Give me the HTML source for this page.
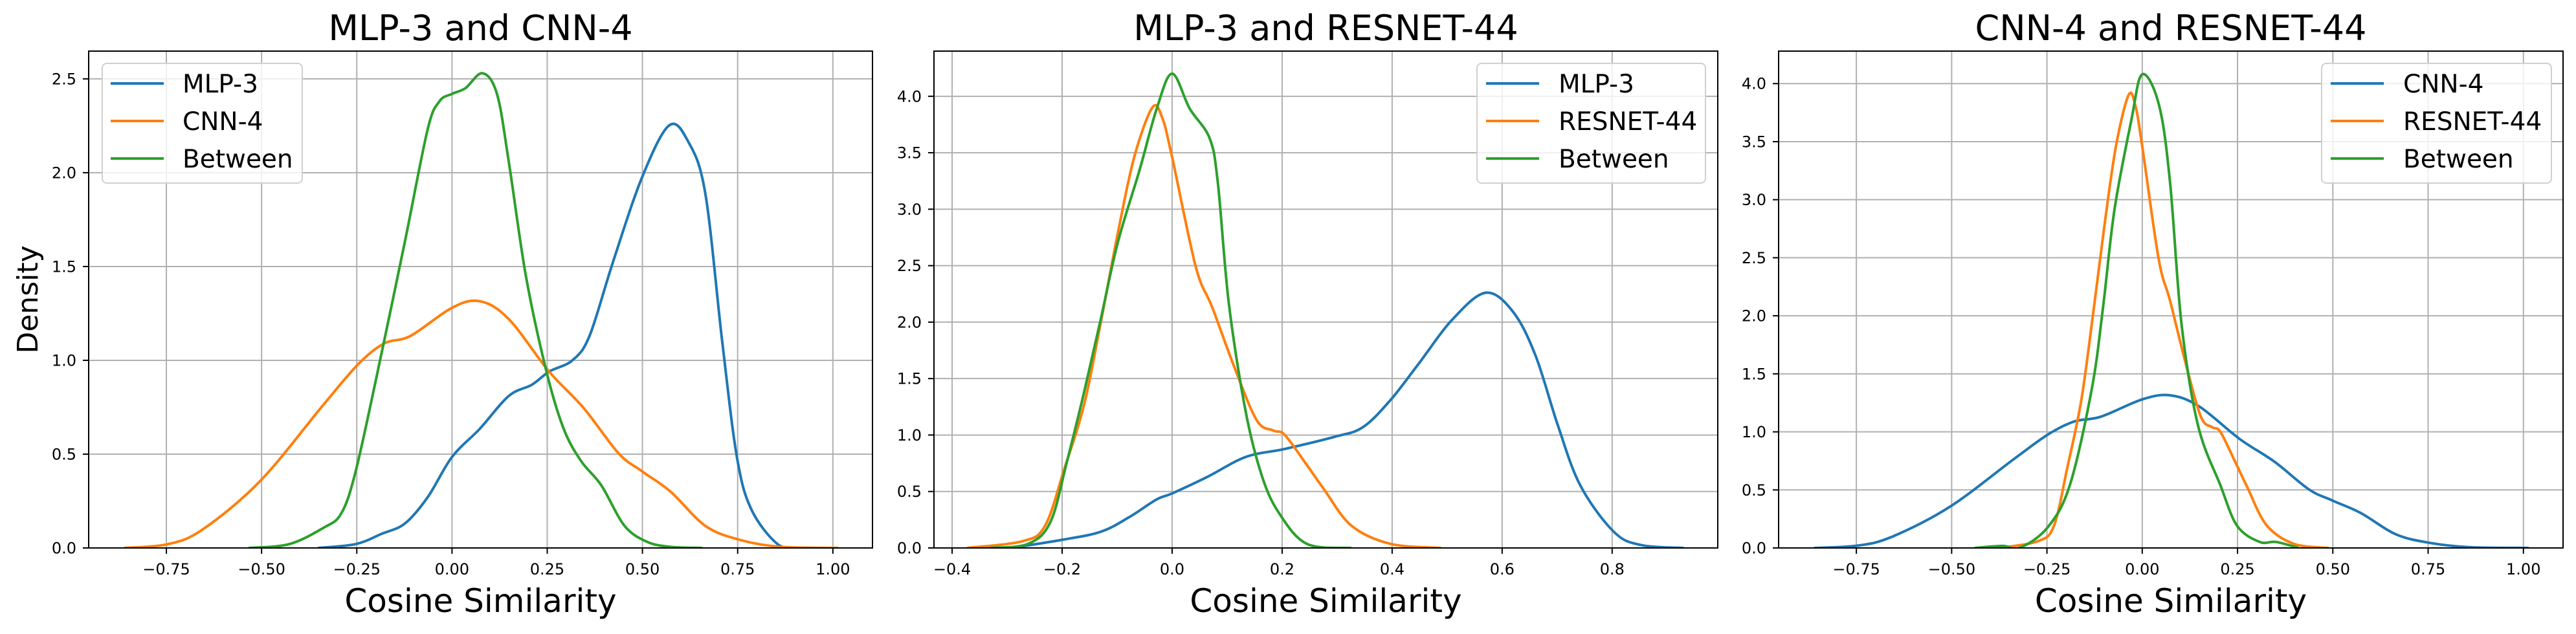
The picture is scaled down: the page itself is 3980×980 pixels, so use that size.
<!DOCTYPE html>
<html><head><meta charset="utf-8">
<style>
html,body{margin:0;padding:0;background:#fff;}
svg{display:block;font-family:"DejaVu Sans","Liberation Sans",sans-serif;}
</style></head>
<body>
<svg id="fig" width="3980" height="980" viewBox="0 0 3980 980" xmlns="http://www.w3.org/2000/svg"></svg>
<script>
// ---- data (x = cosine similarity, y = density) ----
const mlp3_A_x = [-0.352,-0.254,-0.185,-0.124,-0.064,0,0.073,0.149,0.21,0.255,0.316,0.361,0.422,0.498,0.569,0.619,0.665,0.710,0.748,0.786,0.855,0.91];
const mlp3_A_y = [0,0.02,0.075,0.13,0.27,0.485,0.635,0.81,0.87,0.94,1.00,1.13,1.52,1.97,2.25,2.17,1.89,1.09,0.485,0.205,0.02,0];
const cnn4_x = [-0.861,-0.747,-0.656,-0.504,-0.337,-0.246,-0.178,-0.109,0,0.073,0.149,0.255,0.346,0.437,0.498,0.574,0.665,0.756,0.862,1.014];
const cnn4_y = [0,0.02,0.097,0.356,0.765,0.98,1.09,1.13,1.28,1.315,1.22,0.94,0.745,0.505,0.41,0.30,0.118,0.043,0.006,0];
const betweenA_x = [-0.534,-0.428,-0.337,-0.291,-0.254,-0.2,-0.124,-0.064,-0.033,0,0.035,0.080,0.118,0.149,0.194,0.248,0.293,0.339,0.392,0.453,0.513,0.574,0.657];
const betweenA_y = [0,0.02,0.108,0.183,0.40,0.894,1.63,2.23,2.38,2.42,2.45,2.53,2.42,2.06,1.45,0.94,0.636,0.463,0.334,0.118,0.032,0.006,0];
const mlp3_B_x = [-0.292,-0.2,-0.13,-0.079,-0.028,0,0.063,0.134,0.205,0.296,0.347,0.397,0.448,0.509,0.570,0.620,0.661,0.701,0.742,0.803,0.853,0.93];
const mlp3_B_y = [0,0.072,0.143,0.27,0.43,0.483,0.627,0.806,0.877,0.985,1.07,1.31,1.63,2.02,2.26,2.09,1.70,1.09,0.555,0.143,0.025,0];
const resnet_x = [-0.373,-0.272,-0.231,-0.196,-0.160,-0.13,-0.099,-0.069,-0.036,-0.018,0,0.043,0.073,0.114,0.154,0.184,0.205,0.245,0.276,0.326,0.397,0.489];
const resnet_y = [0,0.06,0.197,0.70,1.27,1.99,2.78,3.46,3.90,3.81,3.46,2.49,2.13,1.59,1.13,1.04,1.00,0.734,0.52,0.197,0.036,0];
const betweenB_x = [-0.332,-0.262,-0.221,-0.191,-0.160,-0.13,-0.099,-0.059,-0.028,0,0.032,0.068,0.083,0.103,0.134,0.164,0.195,0.245,0.326];
const betweenB_y = [0,0.036,0.233,0.77,1.38,2.02,2.70,3.35,3.89,4.20,3.89,3.63,3.24,2.17,1.20,0.627,0.304,0.036,0];
const betweenC_x = [-0.44,-0.366,-0.322,-0.249,-0.19,-0.132,-0.103,-0.073,-0.029,0,0.044,0.073,0.103,0.146,0.205,0.249,0.308,0.351,0.41];
const betweenC_y = [0,0.017,0,0.174,0.54,1.376,2.07,2.91,3.68,4.08,3.815,3.15,1.93,1.06,0.54,0.19,0.052,0.052,0];

const ticksX_A = [-0.75,-0.5,-0.25,0,0.25,0.5,0.75,1.0];
const tickLabelsX_A = ["−0.75","−0.50","−0.25","0.00","0.25","0.50","0.75","1.00"];
const ticksX_B = [-0.4,-0.2,0,0.2,0.4,0.6,0.8];
const tickLabelsX_B = ["−0.4","−0.2","0.0","0.2","0.4","0.6","0.8"];
const ticksY_A = [0,0.5,1,1.5,2,2.5];
const tickLabelsY_A = ["0.0","0.5","1.0","1.5","2.0","2.5"];
const ticksY_B = [0,0.5,1,1.5,2,2.5,3,3.5,4];
const tickLabelsY_B = ["0.0","0.5","1.0","1.5","2.0","2.5","3.0","3.5","4.0"];

const C = ["#1f77b4","#ff7f0e","#2ca02c"];
const NS = "http://www.w3.org/2000/svg";
const fig = document.getElementById('fig');
function mk(tag, attrs, parent){
  const e = document.createElementNS(NS, tag);
  for (const k in attrs) e.setAttribute(k, attrs[k]);
  (parent||fig).appendChild(e); return e;
}
function smooth(pts){
  let d = "M"+pts[0][0].toFixed(1)+","+pts[0][1].toFixed(1);
  for (let i=0;i<pts.length-1;i++){
    const p0=pts[Math.max(0,i-1)], p1=pts[i], p2=pts[i+1], p3=pts[Math.min(pts.length-1,i+2)];
    const c1=[p1[0]+(p2[0]-p0[0])/6, p1[1]+(p2[1]-p0[1])/6];
    const c2=[p2[0]-(p3[0]-p1[0])/6, p2[1]-(p3[1]-p1[1])/6];
    d+=" C"+c1[0].toFixed(1)+","+c1[1].toFixed(1)+" "+c2[0].toFixed(1)+","+c2[1].toFixed(1)+" "+p2[0].toFixed(1)+","+p2[1].toFixed(1);
  }
  return d;
}
const panels = [
  {key:"mlp3-cnn4", title:"MLP-3 and CNN-4", L:137, R:1348, T:79, B:847, xmin:-0.954, xmax:1.104, ymax:2.648,
   tx:ticksX_A, txl:tickLabelsX_A, ty:ticksY_A, tyl:tickLabelsY_A, ylabel:true,
   series:[["MLP-3",mlp3_A_x,mlp3_A_y],["CNN-4",cnn4_x,cnn4_y],["Between",betweenA_x,betweenA_y]],
   leg:{x:158,y:98,w:309,h:185,line:171,text:282}},
  {key:"mlp3-resnet44", title:"MLP-3 and RESNET-44", L:1443, R:2654, T:79, B:847, xmin:-0.433, xmax:0.992, ymax:4.4,
   tx:ticksX_B, txl:tickLabelsX_B, ty:ticksY_B, tyl:tickLabelsY_B, ylabel:false,
   series:[["MLP-3",mlp3_B_x,mlp3_B_y],["RESNET-44",resnet_x,resnet_y],["Between",betweenB_x,betweenB_y]],
   leg:{x:2282,y:98,w:353,h:185,line:2296,text:2408}},
  {key:"cnn4-resnet44", title:"CNN-4 and RESNET-44", L:2748, R:3960, T:79, B:847, xmin:-0.954, xmax:1.104, ymax:4.28,
   tx:ticksX_A, txl:tickLabelsX_A, ty:ticksY_B, tyl:tickLabelsY_B, ylabel:false,
   series:[["CNN-4",cnn4_x,cnn4_y],["RESNET-44",resnet_x,resnet_y],["Between",betweenC_x,betweenC_y]],
   leg:{x:3587,y:98,w:355,h:185,line:3601,text:3713}}
];
panels.forEach(p=>{
  const g = mk('g',{});
  
  
  const sx = v => p.L + (v-p.xmin)/(p.xmax-p.xmin)*(p.R-p.L);
  const sy = v => p.B - v/p.ymax*(p.B-p.T);
  p.tx.forEach((t,i)=>{
    const x=sx(t);
    const gl = mk('line',{x1:x,x2:x,y1:p.T,y2:p.B,stroke:"#b0b0b0","stroke-width":2},g);
    
    
    mk('line',{x1:x,x2:x,y1:p.B,y2:p.B+9,stroke:"#000","stroke-width":2},g);
    const tl = mk('text',{x:x,y:888,"font-size":24,"text-anchor":"middle",fill:"#000"},g);
    tl.textContent = p.txl[i];
    
    
  });
  p.ty.forEach((t,i)=>{
    const y=sy(t);
    const gl = mk('line',{x1:p.L,x2:p.R,y1:y,y2:y,stroke:"#b0b0b0","stroke-width":2},g);
    
    
    mk('line',{x1:p.L-9,x2:p.L,y1:y,y2:y,stroke:"#000","stroke-width":2},g);
    const tl = mk('text',{x:p.L-19,y:y+8.5,"font-size":24,"text-anchor":"end",fill:"#000"},g);
    tl.textContent = p.tyl[i];
    
    
  });
  const clip = mk('clipPath',{id:'clip-'+p.key},g);
  mk('rect',{x:p.L,y:p.T,width:p.R-p.L,height:p.B-p.T},clip);
  p.series.forEach((s,si)=>{
    const pts = s[1].map((xv,k)=>[sx(xv), sy(s[2][k])]);
    const path = mk('path',{d:smooth(pts),fill:"none",stroke:C[si],"stroke-width":4,"stroke-linejoin":"round","clip-path":"url(#clip-"+p.key+")"},g);
    
    
  });
  const fr = mk('rect',{x:p.L,y:p.T,width:p.R-p.L,height:p.B-p.T,fill:"none",stroke:"#000","stroke-width":2},g);
  
  
  const ti = mk('text',{x:(p.L+p.R)/2,y:62,"font-size":54,"text-anchor":"middle",fill:"#000"},g);
  ti.textContent = p.title;
  
  
  const xl = mk('text',{x:(p.L+p.R)/2,y:946,"font-size":50,"text-anchor":"middle",fill:"#000"},g);
  xl.textContent = "Cosine Similarity";
  
  
  if (p.ylabel){
    const yl = mk('text',{x:0,y:0,"font-size":44,"text-anchor":"middle",fill:"#000",transform:"translate(58,"+((p.T+p.B)/2)+") rotate(-90)"},g);
    yl.textContent = "Density";
    
    
  }
  const lg = mk('g',{},g);
  
  
  mk('rect',{x:p.leg.x,y:p.leg.y,width:p.leg.w,height:p.leg.h,rx:7,fill:"#fff","fill-opacity":0.8,stroke:"#d0d0d0","stroke-width":2},lg);
  p.series.forEach((s,si)=>{
    const y = 129 + si*58;
    const e = mk('g',{},lg);
    
    
    mk('line',{x1:p.leg.line,x2:p.leg.line+82,y1:y,y2:y,stroke:C[si],"stroke-width":4},e);
    const t = mk('text',{x:p.leg.text,y:y+14,"font-size":39,fill:"#000"},e);
    t.textContent = s[0];
  });
});
</script>
</body></html>
